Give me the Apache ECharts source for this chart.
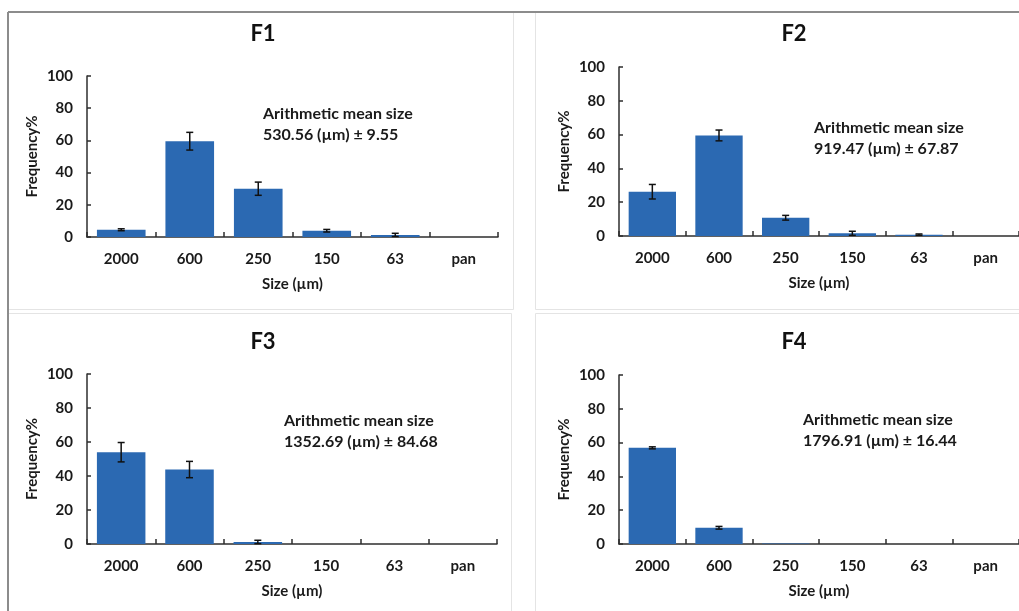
<!DOCTYPE html>
<html>
<head>
<meta charset="utf-8">
<script src="https://cdn.jsdelivr.net/npm/echarts@6/dist/echarts.min.js"></script>
<style>
html,body{margin:0;padding:0;background:#fff;}
#chart{width:1019px;height:611px;}
</style>
</head>
<body>
<div id="chart"></div>
<script>
// ---- Data ----
const categories = ['2000', '600', '250', '150', '63', 'pan'];
const panelTitles = ['F1', 'F2', 'F3', 'F4'];
const meanTexts = [
  '530.56 (µm) ± 9.55',
  '919.47 (µm) ± 67.87',
  '1352.69 (µm) ± 84.68',
  '1796.91 (µm) ± 16.44'
];
const f1Values = [4.5, 59.5, 30.0, 3.9, 1.3, 0];
const f1Errors = [0.6, 5.5, 4.1, 0.8, 1.0, 0];
const f2Values = [26.2, 59.5, 10.8, 1.6, 0.8, 0];
const f2Errors = [4.3, 3.2, 1.4, 1.2, 0.4, 0];
const f3Values = [54.0, 43.8, 1.2, 0, 0, 0];
const f3Errors = [5.7, 4.8, 1.0, 0, 0, 0];
const f4Values = [56.9, 9.6, 0.3, 0, 0, 0];
const f4Errors = [0.6, 0.8, 0, 0, 0, 0];
const yTicks = [0, 20, 40, 60, 80, 100];

const allValues = [f1Values, f2Values, f3Values, f4Values];
const allErrors = [f1Errors, f2Errors, f3Errors, f4Errors];

// ---- Layout ----
const FONT = 'Lato, "Open Sans", sans-serif';
const TXT = '#1a1a1a';
const BAR = '#2b69b2';
const AX = '#2e2e2e';
const grids = [
  {left: 87, top: 76, width: 411, height: 161},
  {left: 619, top: 67, width: 408, height: 169},
  {left: 87, top: 374, width: 410, height: 170},
  {left: 619, top: 375, width: 408, height: 169}
];
const titlePos = [[258, 18], [789, 18], [258, 326], [789, 326]];
const notePos = [[263, 103], [814, 117], [284, 410], [803, 409]];

const chart = echarts.init(document.getElementById('chart'), null, {renderer: 'canvas'});

const xAxes = [], yAxes = [], series = [], titles = [], graphics = [];

// panel borders
const boxes = [
  [8, 12, 505, 297], [535, 12, 500, 297], [8, 313, 503, 310], [535, 313, 500, 310]
];
boxes.forEach(b => graphics.push({
  type: 'rect', z: -10, silent: true,
  shape: {x: b[0] + 0.5, y: b[1] + 0.5, width: b[2], height: b[3]},
  style: {fill: null, stroke: '#e4e4e4', lineWidth: 1}
}));
graphics.push({type: 'line', z: -5, silent: true, shape: {x1: 8, y1: 12, x2: 1019, y2: 12}, style: {stroke: '#8c8c8c', lineWidth: 2}});
graphics.push({type: 'line', z: -5, silent: true, shape: {x1: 8, y1: 12, x2: 8, y2: 611}, style: {stroke: '#8c8c8c', lineWidth: 2}});

for (let i = 0; i < 4; i++) {
  xAxes.push({
    type: 'category', gridIndex: i, data: categories,
    name: 'Size (µm)', nameLocation: 'middle', nameGap: 40,
    nameTextStyle: {fontFamily: FONT, fontWeight: 'bold', fontSize: 15, color: TXT},
    axisLine: {lineStyle: {color: AX, width: 1.5}},
    axisTick: {show: true, inside: true, length: 5, lineStyle: {color: AX, width: 1.5}},
    axisLabel: {margin: 15, fontFamily: FONT, fontWeight: 'bold', fontSize: 15, color: TXT}
  });
  yAxes.push({
    type: 'value', gridIndex: i, min: 0, max: 100, interval: 20,
    name: 'Frequency%', nameLocation: 'middle', nameGap: 47, nameRotate: 90,
    nameTextStyle: {fontFamily: FONT, fontWeight: 'bold', fontSize: 15, color: TXT},
    axisLine: {show: true, lineStyle: {color: AX, width: 1.5}},
    axisTick: {show: true, inside: true, length: 4, lineStyle: {color: AX, width: 1.5}},
    splitLine: {show: false},
    axisLabel: {margin: 14, fontFamily: FONT, fontWeight: 'bold', fontSize: 15, color: TXT,
      formatter: v => yTicks.indexOf(v) >= 0 ? String(v) : ''}
  });
  series.push({
    type: 'bar', xAxisIndex: i, yAxisIndex: i,
    data: allValues[i], barCategoryGap: '29%',
    itemStyle: {color: BAR}, silent: true
  });
  series.push({
    type: 'custom', xAxisIndex: i, yAxisIndex: i, z: 5, silent: true,
    data: allValues[i].map((v, k) => [k, v, allErrors[i][k]]),
    renderItem: function (params, api) {
      const err = api.value(2);
      if (!err) return null;
      const x = api.value(0), v = api.value(1);
      const hi = api.coord([x, v + err]);
      const lo = api.coord([x, Math.max(0, v - err)]);
      const cw = 3.5;
      const st = {stroke: '#111', lineWidth: 1.5};
      return {type: 'group', children: [
        {type: 'line', shape: {x1: hi[0], y1: hi[1], x2: lo[0], y2: lo[1]}, style: st},
        {type: 'line', shape: {x1: hi[0] - cw, y1: hi[1], x2: hi[0] + cw, y2: hi[1]}, style: st},
        {type: 'line', shape: {x1: lo[0] - cw, y1: lo[1], x2: lo[0] + cw, y2: lo[1]}, style: st}
      ]};
    }
  });
  titles.push({
    text: panelTitles[i], left: titlePos[i][0], top: titlePos[i][1], textAlign: 'center',
    textStyle: {fontFamily: FONT, fontWeight: 'bold', fontSize: 22, color: '#111'}
  });
  graphics.push({
    type: 'text', left: notePos[i][0], top: notePos[i][1], silent: true,
    style: {text: 'Arithmetic mean size\n' + meanTexts[i], fontFamily: FONT, fontWeight: 'bold',
      fontSize: 16, lineHeight: 21, fill: TXT}
  });
}

chart.setOption({
  animation: false,
  backgroundColor: '#fff',
  title: titles,
  grid: grids,
  xAxis: xAxes,
  yAxis: yAxes,
  series: series,
  graphic: graphics
});
</script>
</body>
</html>
